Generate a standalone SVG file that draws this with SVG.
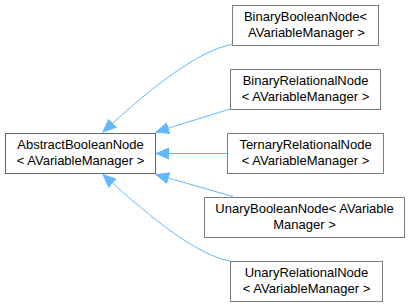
<svg xmlns="http://www.w3.org/2000/svg" width="412" height="307" viewBox="0 0 412 307">
<style>
.box{fill:#ffffff;stroke:#808080;stroke-width:1}
.root{fill:#ffffff;stroke:#666666;stroke-width:1}
.lbl{font-family:"Liberation Sans",Arial,Helvetica,sans-serif;font-size:13px;fill:#000000;text-anchor:middle}
.edge{fill:none;stroke:#63b8ff;stroke-width:1}
</style>
<defs>
<marker id="ah" markerUnits="userSpaceOnUse" markerWidth="15" markerHeight="14" refX="13" refY="6.5" orient="auto">
<path d="M0,1 L13,6.5 L0,12 Z" fill="#63b8ff" stroke="#63b8ff" stroke-width="1"/>
</marker>
</defs>
<g id="connectors">
<path class="edge" d="M232,44.5 C200,50 155,84 103,132" marker-end="url(#ah)"/>
<path class="edge" d="M230,109 L156,132" marker-end="url(#ah)"/>
<path class="edge" d="M227,153.5 L156,153.5" marker-end="url(#ah)"/>
<path class="edge" d="M233,196.5 L156,174.5" marker-end="url(#ah)"/>
<path class="edge" d="M230,261 C200,256 155,222 103,174.5" marker-end="url(#ah)"/>
</g>
<g id="AbstractBooleanNode">
<rect class="root" x="5.5" y="133.5" width="150" height="40"/>
<text class="lbl" x="80.5" y="149">AbstractBooleanNode</text>
<text class="lbl" x="80.5" y="165">&lt; AVariableManager &gt;</text>
</g>
<g id="BinaryBooleanNode">
<rect class="box" x="232.5" y="5.5" width="146" height="40"/>
<text class="lbl" x="305.5" y="21">BinaryBooleanNode&lt;</text>
<text class="lbl" x="306.5" y="37">AVariableManager &gt;</text>
</g>
<g id="BinaryRelationalNode">
<rect class="box" x="230.5" y="69.5" width="150" height="40"/>
<text class="lbl" x="305.5" y="85">BinaryRelationalNode</text>
<text class="lbl" x="305.5" y="101">&lt; AVariableManager &gt;</text>
</g>
<g id="TernaryRelationalNode">
<rect class="box" x="227.5" y="133.5" width="156" height="40"/>
<text class="lbl" x="305.5" y="149">TernaryRelationalNode</text>
<text class="lbl" x="305.5" y="165">&lt; AVariableManager &gt;</text>
</g>
<g id="UnaryBooleanNode">
<rect class="box" x="204.5" y="197.5" width="200" height="40"/>
<text class="lbl" x="304.5" y="213">UnaryBooleanNode&lt; AVariable</text>
<text class="lbl" x="304.5" y="229">Manager &gt;</text>
</g>
<g id="UnaryRelationalNode">
<rect class="box" x="230.5" y="261.5" width="152" height="40"/>
<text class="lbl" x="306.5" y="277">UnaryRelationalNode</text>
<text class="lbl" x="306.5" y="293">&lt; AVariableManager &gt;</text>
</g>
</svg>
